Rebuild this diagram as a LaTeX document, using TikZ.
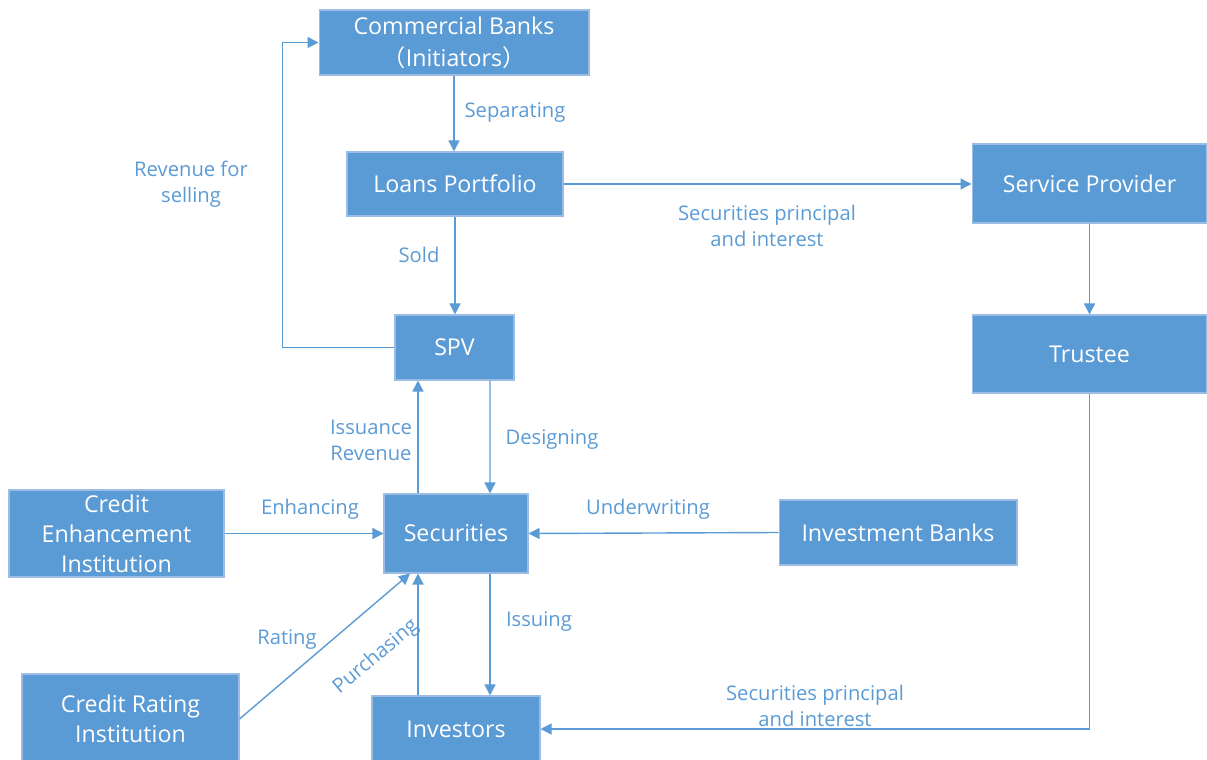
\documentclass[tikz,border=0pt]{standalone}
\usepackage{fontspec}
\setmainfont{Open Sans}
\newfontfamily\cjk{Noto Sans CJK SC}
\usetikzlibrary{arrows.meta,calc}
\definecolor{flowblue}{HTML}{5B9BD5}
\definecolor{edgeblue}{HTML}{9CBDE3}
\tikzset{
  box/.style={rectangle, fill=flowblue, draw=edgeblue, line width=0.6pt, text=white, align=center, inner sep=0pt, font=\fontsize{13.2}{17}\selectfont},
  connect/.style={-{Triangle[length=2.2mm,width=2.2mm]}, draw=flowblue, line width=0.8pt},
  lbl/.style={text=flowblue, align=center, inner sep=0pt, font=\fontsize{11.5}{14.7}\selectfont}
}

\begin{document}
\begin{tikzpicture}[x=0.02cm, y=-0.02cm]
      \clip (0,0) rectangle (1207,760);
      % boxes
      \node[box, minimum width=5.4cm, minimum height=1.3cm] (Banks) at (454,42.5) {Commercial Banks\\[1pt]{\cjk （}Initiators{\cjk ）}};
      \node[box, minimum width=4.32cm, minimum height=1.28cm] (Loans) at (455,184) {Loans Portfolio};
      \node[box, minimum width=4.7cm, minimum height=1.58cm] (Service) at (1089.5,183.5) {Service Provider};
      \node[box, minimum width=4.7cm, minimum height=1.56cm] (Trustee) at (1089.5,354) {Trustee};
      \node[box, minimum width=2.38cm, minimum height=1.3cm] (SPV) at (454.5,347.5) {SPV};
      \node[box, minimum width=2.88cm, minimum height=1.58cm] (Sec) at (456,533.5) {Securities};
      \node[box, minimum width=4.76cm, minimum height=1.3cm] (InvBanks) at (898,532.5) {Investment Banks};
      \node[box, minimum width=4.3cm, minimum height=1.74cm] (Enhance) at (116.5,533.5) {Credit\\Enhancement\\Institution};
      \node[box, minimum width=4.34cm, minimum height=1.8cm] (Rating) at (130.5,719) {Credit Rating\\Institution};
      \node[box, minimum width=3.36cm, minimum height=1.32cm] (Investors) at (456,729) {Investors};

      % labels
      \node[lbl] (lSep) at (515,113) {Separating};
      \node[lbl] (lSold) at (419,255) {Sold};
      \node[lbl] (lRev) at (191,184) {Revenue for\\selling};
      \node[lbl] (lSecTop) at (767,226) {Securities principal\\and interest};
      \node[lbl] (lIss) at (371,440) {Issuance\\Revenue};
      \node[lbl] (lDes) at (552,440) {Designing};
      \node[lbl] (lEnh) at (310,509) {Enhancing};
      \node[lbl] (lUnd) at (648,509) {Underwriting};
      \node[lbl] (lRat) at (287,640) {Rating};
      \node[lbl, rotate=40] (lPur) at (376,657) {Purchasing};
      \node[lbl] (lIssuing) at (539,622) {Issuing};
      \node[lbl] (lSecBot) at (815,706) {Securities principal\\and interest};

      % connectors
      \draw[connect] (Banks.south) -- (Loans.north -| Banks.south);
      \draw[connect] (Loans.east) -- (Service.west |- Loans.east);
      \draw[connect] (Loans.south) -- (SPV.north -| Loans.south);
      \draw[connect] (SPV.west) -- ++(-112,0) |- (Banks.west);
      \draw[connect] (Service.south) -- (Trustee.north);
      \draw[connect] (Trustee.south) |- (Investors.east);
      \draw[connect] ($(SPV.south)+(35.5,0)$) -- ($(Sec.north)+(34,0)$);
      \draw[connect] ($(Sec.north)+(-38,0)$) -- ($(SPV.south)+(-36.5,0)$);
      \draw[connect] (Enhance.east) -- (Sec.west);
      \draw[connect] (InvBanks.west) -- (Sec.east);
      \draw[connect] (Rating.east) -- ($(Sec.south)+(-46,0)$);
      \draw[connect] ($(Investors.north)+(-38,0)$) -- ($(Sec.south)+(-38,0)$);
      \draw[connect] ($(Sec.south)+(34,0)$) -- ($(Investors.north)+(34,0)$);
\end{tikzpicture}
\end{document}
